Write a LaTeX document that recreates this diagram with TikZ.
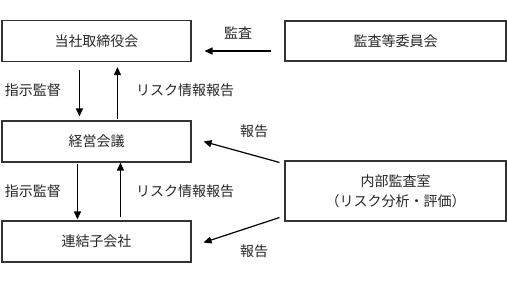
\documentclass[tikz,border=0pt]{standalone}
\usepackage{fontspec}
\setmainfont{Noto Sans CJK JP}
\usetikzlibrary{arrows.meta,calc}
\begin{document}
\begin{tikzpicture}[x=1pt,y=-1pt,
  every node/.style={font=\fontsize{14}{20}\selectfont, text=black!85},
  box/.style={draw=black!80,line width=1.1pt,inner sep=0pt,align=center},
  arr/.style={line width=1.2pt,-{Triangle[length=8pt,width=7pt]}},
  lbl/.style={inner sep=0pt}]
\useasboundingbox (0,0) rectangle (507,282);
\node[box,minimum width=189pt,minimum height=41pt] (b1) at (96.5,41) {当社取締役会};
\node[box,minimum width=189pt,minimum height=41pt] (b2) at (96.5,141.5) {経営会議};
\node[box,minimum width=189pt,minimum height=41pt] (b3) at (96.5,241.5) {連結子会社};
\node[box,minimum width=221pt,minimum height=40pt] (b4) at (395.5,41) {監査等委員会};
\node[box,minimum width=221pt,minimum height=60pt] (b5) at (395.5,191) {内部監査室\\（リスク分析・評価）};
\draw[arr] ($(b1.south west)+(78,8)$) -- ($(b2.north west)+(78,-4)$);
\draw[arr] ($(b2.north west)+(116,-1)$) -- ($(b1.south west)+(116,5)$);
\draw[arr] ($(b2.south west)+(76,1)$) -- ($(b3.north west)+(76,-1)$);
\draw[arr] ($(b3.north west)+(119,-3)$) -- ($(b2.south west)+(119,0)$);
\draw[arr] ($(b4.west)+(-13,10)$) -- ($(b1.east)+(13,10)$);
\draw[arr] ($(b5.north west)+(-5,2)$) -- ($(b2.east)+(12,0)$);
\draw[arr] ($(b5.south west)+(-5,-4)$) -- ($(b3.east)+(12,1)$);
\node[lbl] (l1) at (238,33) {監査};
\node[lbl] (l2) at (33,90) {指示監督};
\node[lbl] (l3) at (185,90) {リスク情報報告};
\node[lbl] (l4) at (33,191) {指示監督};
\node[lbl] (l5) at (185,191) {リスク情報報告};
\node[lbl] (l6) at (254,131) {報告};
\node[lbl] (l7) at (254,251) {報告};
\end{tikzpicture}
\end{document}
